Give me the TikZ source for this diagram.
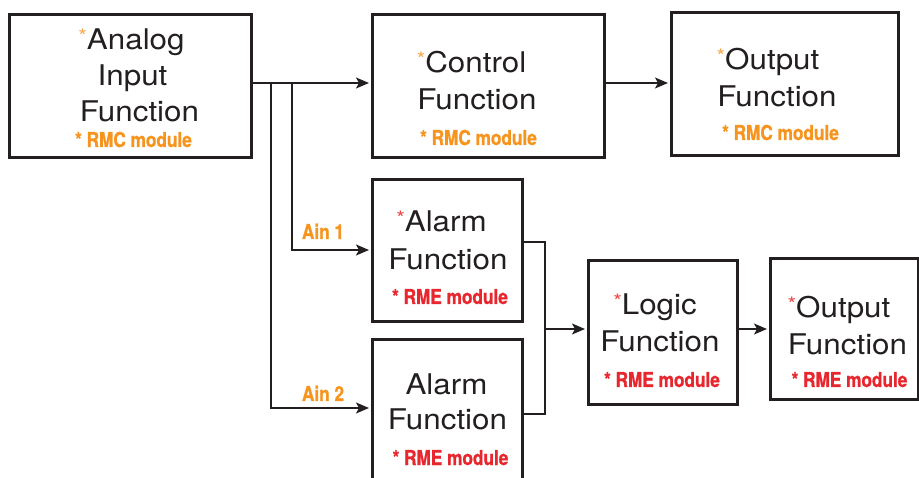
\documentclass[tikz,border=0pt]{standalone}
\usepackage{fontspec}
\setmainfont{TeX Gyre Heros}[FakeStretch=1.1]
\newfontfamily\modfont{TeX Gyre Heros}[FakeStretch=0.84,FakeBold=1]
\usetikzlibrary{arrows.meta}
\definecolor{ink}{HTML}{231F20}
\definecolor{rmc}{HTML}{F7941D}
\definecolor{rme}{HTML}{E8262E}
\definecolor{rmcstar}{HTML}{F9A74E}
\definecolor{rmestar}{HTML}{EE4A4A}
\newcommand{\tstar}[1]{{\color{#1}\raisebox{6pt}{\fontsize{20}{20}\selectfont *}}}
\tikzset{
  box/.style={draw=ink, line width=3pt, rectangle, inner sep=0pt, anchor=north west},
  title/.style={anchor=base, inner sep=0pt, text=ink, font=\fontsize{28.5}{34}\selectfont},
  modl/.style={anchor=base, inner sep=0pt, font=\modfont\bfseries\fontsize{20.5}{24}\selectfont},
  wire/.style={draw=ink, line width=1.4pt},
  arr/.style={wire, -{Stealth[length=13pt,width=11pt,inset=3pt]}, shorten >=2pt}
}
\begin{document}
\begin{tikzpicture}[x=1pt,y=-1pt]
\useasboundingbox (0,0) rectangle (919,478);
\clip (0,0) rectangle (919,478);
\fill[white] (0,0) rectangle (919,478);
% boxes
\node[box, minimum width=242, minimum height=143] (A) at (8,13) {};
\node[box, minimum width=232, minimum height=143] (C) at (371,13) {};
\node[box, minimum width=227, minimum height=143] (O1) at (670,11) {};
\node[box, minimum width=150, minimum height=142] (AL1) at (371,178) {};
\node[box, minimum width=150, minimum height=160] (AL2) at (371,338) {};
\node[box, minimum width=149, minimum height=144] (L) at (587,259) {};
\node[box, minimum width=148, minimum height=141] (O2) at (769,257) {};
% texts
\node[title] (a1) at (131.5,50) {\tstar{rmcstar}Analog};
\node[title] (a2) at (132.5,86) {Input};
\node[title] (a3) at (139.5,122) {Function};
\node[modl, text=rmc] (am) at (133.5,147) {* RMC module};
\node[title] (c1) at (471.5,73) {\tstar{rmcstar}Control};
\node[title] (c2) at (477,110) {Function};
\node[modl, text=rmc] (cm) at (478.5,145) {* RMC module};
\node[title] (o1) at (768,70) {\tstar{rmcstar}Output};
\node[title] (o2) at (777,107) {Function};
\node[modl, text=rmc] (om) at (780.5,140) {* RMC module};
\node[title] (l11) at (441.5,232) {\tstar{rmestar}Alarm};
\node[title] (l12) at (448,270) {Function};
\node[modl, text=rme] (l1m) at (450,304) {* RME module};
\node[title] (l21) at (446.5,395) {Alarm};
\node[title] (l22) at (447.5,430) {Function};
\node[modl, text=rme] (l2m) at (450.5,465) {* RME module};
\node[title] (g1) at (655,315) {\tstar{rmestar}Logic};
\node[title] (g2) at (660,352) {Function};
\node[modl, text=rme] (gm) at (662,387) {* RME module};
\node[title] (p1) at (839,318) {\tstar{rmestar}Output};
\node[title] (p2) at (847.5,355) {Function};
\node[modl, text=rme] (pm) at (849.5,387) {* RME module};
\node[modl, text=rmc] (ain1) at (323,239) {Ain 1};
\node[modl, text=rmc] (ain2) at (323,401) {Ain 2};
% coordinates
\coordinate (ra) at (0,83);
\coordinate (b1) at (292,83);
\coordinate (b2) at (271,83);
\coordinate (r1) at (0,250);
\coordinate (r2) at (0,408);
\coordinate (t1) at (0,242);
\coordinate (t2) at (0,414);
\coordinate (m) at (545,329);
% connectors
\draw[arr] (A.east |- ra) -- (C.west |- ra);
\draw[arr] (b1) |- (AL1.west |- r1);
\draw[arr] (b2) |- (AL2.west |- r2);
\draw[arr] (C.east |- ra) -- (O1.west |- ra);
\draw[wire] (AL1.east |- t1) -| (m) |- (AL2.east |- t2);
\draw[arr] (m) -- (L.west |- m);
\draw[arr] (L.east |- m) -- (O2.west |- m);
\end{tikzpicture}
\end{document}
